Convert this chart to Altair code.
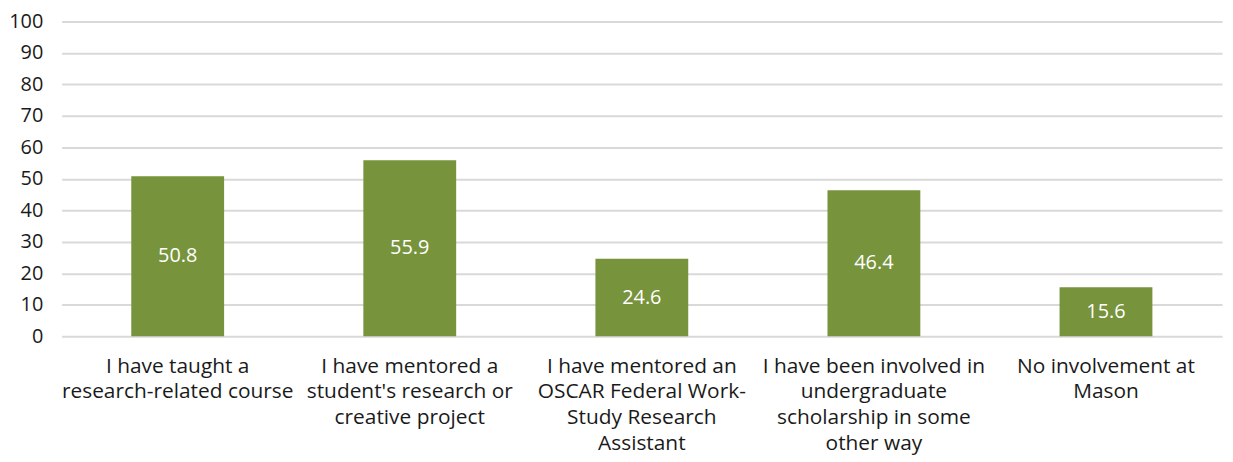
import altair as alt
import pandas as pd

categories = [
    "I have taught a|research-related course",
    "I have mentored a|student's research or|creative project",
    "I have mentored an|OSCAR Federal Work-|Study Research|Assistant",
    "I have been involved in|undergraduate|scholarship in some|other way",
    "No involvement at|Mason",
]
values = [50.8, 55.9, 24.6, 46.4, 15.6]
yticks = [0, 10, 20, 30, 40, 50, 60, 70, 80, 90, 100]

df = pd.DataFrame({"cat": categories, "val": values})

FONT = "Open Sans"
GREEN = "#77933C"
FS = 20

xaxis = alt.Axis(
    labelAngle=0,
    labelExpr="split(datum.label, '|')",
    labelFontSize=21,
    labelFont=FONT,
    labelColor="#1a1a1a",
    labelLineHeight=26,
    labelPadding=19,
    ticks=False,
    domain=False,
    labelLimit=300,
)
xscale = alt.Scale(paddingInner=0.6, paddingOuter=0.3)

yaxis = alt.Axis(
    values=yticks,
    labelOverlap=False,
    labelFontSize=FS,
    labelFont=FONT,
    labelColor="#1a1a1a",
    labelPadding=19,
    ticks=False,
    domain=False,
    gridColor="#d9d9d9",
    gridWidth=2,
)
yscale = alt.Scale(domain=[0, 100], nice=False)

bars = alt.Chart(df).mark_bar(color=GREEN).encode(
    x=alt.X("cat:N", sort=None, title=None, scale=xscale, axis=xaxis),
    y=alt.Y("val:Q", title=None, scale=yscale, axis=yaxis),
)

labels = alt.Chart(df).transform_calculate(mid="datum.val / 2").mark_text(
    color="white", fontSize=FS, font=FONT, baseline="middle"
).encode(
    x=alt.X("cat:N", sort=None, title=None, scale=xscale, axis=xaxis),
    y=alt.Y("mid:Q", title=None, scale=yscale, axis=yaxis),
    text=alt.Text("val:Q", format=".1f"),
)

chart = (
    alt.layer(bars, labels)
    .properties(
        width=1168,
        height=317,
        autosize=alt.AutoSizeParams(type="none"),
        padding={"left": 54, "top": 12, "right": 3, "bottom": 125},
    )
    .configure_view(stroke=None)
)

chart.save("out.html", embed_options={"renderer": "svg", "actions": False})
